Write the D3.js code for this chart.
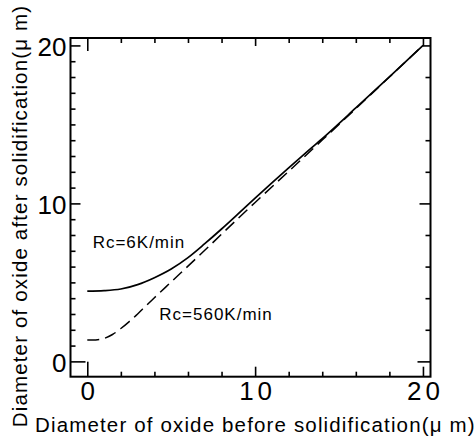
<!DOCTYPE html>
<html><head><meta charset="utf-8">
<script src="https://cdn.jsdelivr.net/npm/d3@7"></script>
<style>body{margin:0;background:#fff}svg{display:block}</style>
</head><body><svg id="c" width="475" height="439"></svg>
<script>
// ---- data ----
const xSolid = [0,1,2,3,4,5,6,7,8,9,10,11,12,13,14,16,18,20];
const ySolid = [4.45,4.48,4.58,4.86,5.3,5.85,6.57,7.45,8.38,9.35,10.33,11.3,12.25,13.18,14.1,16.04,18.01,20];
const xDashed = [0,0.5,1,1.5,2,2.5,3,3.5,4,5,6,7,8,9,10,12,14,16,18,20];
const yDashed = [1.35,1.36,1.45,1.7,2.08,2.52,3.0,3.52,4.03,5.03,6.03,7.03,8.05,9.06,10.06,12.03,14.01,16,18,20];
const majorTicks = [0,10,20];
const tickLabels = ["0","10","20"];
const seriesLabels = ["Rc=6K/min","Rc=560K/min"];
const xTitle = "Diameter of oxide before solidification(\u03bc m)";
const yTitle = "Diameter of oxide after solidification(\u03bc m)";

// ---- layout ----
const font = "'Liberation Sans', Arial, Helvetica, sans-serif";
const svg = d3.select("#c");
const L = 70.5, R = 430.5, T = 38, B = 376.7;
const x = d3.scaleLinear().domain([-1, 20.45]).range([L, R]);
const y = d3.scaleLinear().domain([-0.97, 20.47]).range([B, T]);

const majLen = v => v === 0 ? 15 : 10;
const minLen = 5;

function styleAxis(g) {
  g.select(".domain").remove();
  g.selectAll("line").attr("stroke", "#000").attr("stroke-width", 1.6);
}

const xMinor = d3.range(0, 21, 2).filter(v => !majorTicks.includes(v));
const yMinorL = d3.range(0, 21, 1).filter(v => !majorTicks.includes(v));
const yMinorR = d3.range(0, 21, 2).filter(v => !majorTicks.includes(v));

// bottom
svg.append("g").attr("transform", `translate(0,${B})`)
  .call(d3.axisBottom(x).tickValues(xMinor).tickSize(-minLen).tickFormat(""))
  .call(styleAxis);
const gB = svg.append("g").attr("transform", `translate(0,${B})`)
  .call(d3.axisBottom(x).tickValues(majorTicks).tickSize(-10).tickPadding(5)
        .tickFormat((d,i) => tickLabels[i]))
  .call(styleAxis);
gB.selectAll(".tick line").attr("y2", d => -majLen(d));
gB.selectAll("text").attr("font-family", font).attr("font-size", 26)
  .attr("letter-spacing", 4).attr("dx", 2).attr("fill", "#000");

// top
svg.append("g").attr("transform", `translate(0,${T})`)
  .call(d3.axisTop(x).tickValues(xMinor).tickSize(-minLen).tickFormat(""))
  .call(styleAxis);
const gT = svg.append("g").attr("transform", `translate(0,${T})`)
  .call(d3.axisTop(x).tickValues(majorTicks).tickSize(-10).tickFormat(""))
  .call(styleAxis);
gT.selectAll(".tick line").attr("y2", d => majLen(d) === 15 ? 13 : 8);

// left
svg.append("g").attr("transform", `translate(${L},0)`)
  .call(d3.axisLeft(y).tickValues(yMinorL).tickSize(-minLen).tickFormat(""))
  .call(styleAxis);
const gL = svg.append("g").attr("transform", `translate(${L},0)`)
  .call(d3.axisLeft(y).tickValues(majorTicks).tickSize(-10).tickPadding(4)
        .tickFormat((d,i) => tickLabels[i]))
  .call(styleAxis);
gL.selectAll(".tick line").attr("x2", d => majLen(d));
gL.selectAll("text").attr("font-family", font).attr("font-size", 26)
  .attr("dy", "0.38em").attr("fill", "#000");

// right
svg.append("g").attr("transform", `translate(${R},0)`)
  .call(d3.axisRight(y).tickValues(yMinorR).tickSize(-minLen).tickFormat(""))
  .call(styleAxis);
const gR = svg.append("g").attr("transform", `translate(${R},0)`)
  .call(d3.axisRight(y).tickValues(majorTicks).tickSize(-10).tickFormat(""))
  .call(styleAxis);
gR.selectAll(".tick line").attr("x2", d => d === 0 ? -13 : (d === 20 ? -8 : -11));

// frame
svg.append("rect").attr("x", L).attr("y", T).attr("width", R - L).attr("height", B - T)
  .attr("fill", "none").attr("stroke", "#000").attr("stroke-width", 2);

// curves
const line = d3.line().x(d => x(d[0])).y(d => y(d[1])).curve(d3.curveMonotoneX);
const solid = xSolid.map((v, i) => [v, ySolid[i]]);
const dashed = xDashed.map((v, i) => [v, yDashed[i]]);
svg.append("path").attr("d", line(solid)).attr("fill", "none")
  .attr("stroke", "#000").attr("stroke-width", 1.7);
svg.append("path").attr("d", line(dashed)).attr("fill", "none")
  .attr("stroke", "#000").attr("stroke-width", 1.5).attr("stroke-dasharray", "12,6");

// series labels (anchored in data coordinates)
const labelPos = [[0.32, 7.18], [4.29, 2.62]];
seriesLabels.forEach((t, i) => {
  svg.append("text").attr("x", x(labelPos[i][0])).attr("y", y(labelPos[i][1]))
    .attr("font-family", font).attr("font-size", 17).attr("letter-spacing", 1)
    .attr("fill", "#000").text(t);
});

// axis titles
svg.append("text").attr("x", 35).attr("y", 431.5)
  .attr("font-family", font).attr("font-size", 20.5).attr("letter-spacing", 1.15)
  .attr("fill", "#000").text(xTitle);
svg.append("text").attr("transform", "translate(26.5,216) rotate(-90)")
  .attr("text-anchor", "middle")
  .attr("font-family", font).attr("font-size", 20.5).attr("letter-spacing", 1.15)
  .attr("fill", "#000").text(yTitle);
</script></body></html>
